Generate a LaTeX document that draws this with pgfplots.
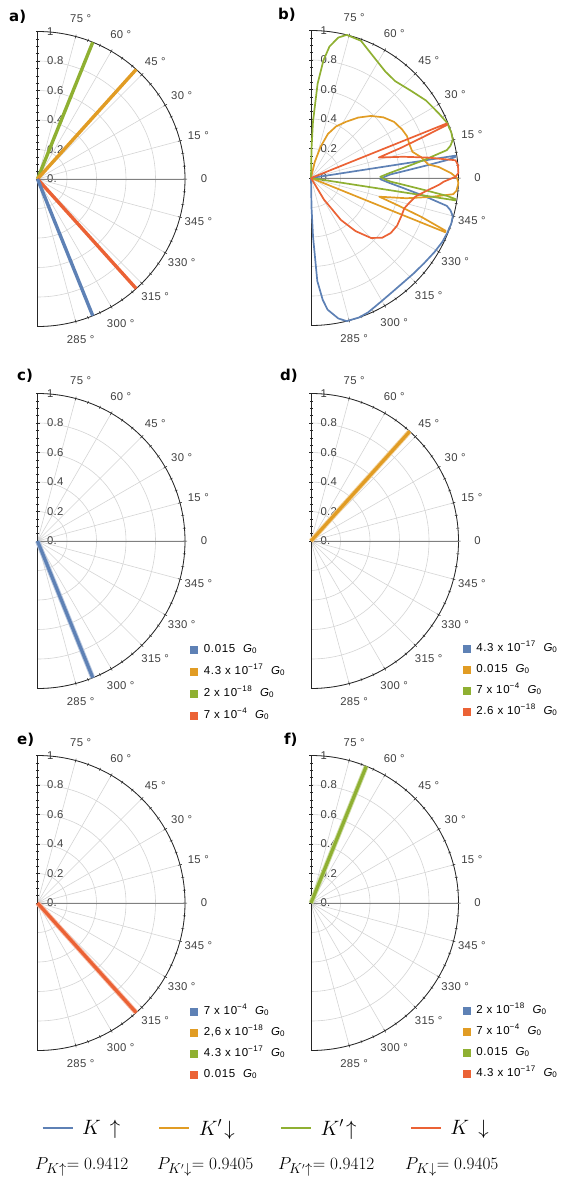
\documentclass[border=0pt]{standalone}
\usepackage{fontspec}
\setmainfont{Liberation Sans}
\newfontfamily\lab[LetterSpace=3]{Liberation Sans}
\newfontfamily\leg[LetterSpace=6]{Liberation Sans}
\newfontfamily\plab{DejaVu Sans}
\usepackage{pgfplots}
\usepackage{pgfplotstable}
\pgfplotsset{compat=1.18}
\usepgfplotslibrary{polar}
\definecolor{cb}{RGB}{94,129,181}
\definecolor{co}{RGB}{225,156,36}
\definecolor{cg}{RGB}{143,176,50}
\definecolor{cr}{RGB}{235,98,53}
\newcommand\labfont{\fontsize{11.3}{13}\selectfont\lab}
\newcommand\legfont{\fontsize{11.5}{13}\selectfont\leg}
\newcommand\G{\ \ {\itshape G}\textsubscript{0}}
\newcommand\tp[1]{10\textsuperscript{−#1}}
\newcommand\E[1]{\hspace{4pt}#1}

% panel b data (angle in degrees, radius)
\pgfplotstableread{
a r
-90 0
-89 0.2
-88 0.4
-86.5 0.7
-84.5 0.83
-82.8 0.9
-79 0.97
-76 1.0
-71 1.0
-67 0.99
-61 0.965
-55 0.95
-49 0.945
-43 0.95
-37 0.96
-31 0.976
-26 0.99
-22 0.996
-18 1.0
-15 0.995
-13 0.97
-11.6 0.94
-9 0.775
-6 0.62
-3.5 0.53
-1 0.47
1 0.5
2.6 0.54
4.5 0.65
6 0.77
7.5 0.93
8.3 0.99
8.8 0.99
9.3 0
90 0
}\tblue
\pgfplotstableread{
a r
-90 0
-9.3 0
-8.8 0.99
-8.3 0.99
-7.5 0.93
-6 0.77
-4.5 0.65
-2.6 0.54
-1 0.5
1 0.47
3.5 0.53
6 0.62
9 0.775
11.6 0.94
13 0.97
15 0.995
18 1.0
22 0.996
27 0.97
34 0.94
41 0.90
49 0.87
55 0.88
62 0.92
70 0.99
76 1.0
79 0.97
82 0.9
84 0.8
86 0.64
88 0.38
89 0.2
90 0
}\tgreen
\pgfplotstableread{
a r
-90 0
-22.6 0
-22.0 0.98
-21.4 0.98
-19.5 0.8
-17.5 0.62
-15.3 0.48
-12 0.66
-9 0.82
-6.5 0.97
-5 0.99
-2 1.0
0 0.99
2 0.95
4.9 0.87
6.6 0.8
10.7 0.76
14.5 0.71
19 0.705
23.5 0.71
28 0.70
34 0.68
40 0.64
46 0.585
52 0.52
58 0.45
64 0.39
69 0.32
73 0.22
77 0.11
80 0
90 0
}\torange
\pgfplotstableread{
a r
-90 0
-62 0
-59 0.17
-54.5 0.35
-50 0.47
-45 0.575
-40 0.63
-34.6 0.657
-29 0.667
-23 0.665
-18 0.665
-14.5 0.685
-10 0.72
-5.8 0.8
-3 0.87
-1.6 0.9
0.5 0.98
2 1.0
5 1.0
7 0.987
10 0.8
13 0.64
16.8 0.48
18.5 0.64
20 0.8
21.3 0.99
21.9 0.99
22.5 0
90 0
}\tred

\pgfplotsset{
  hp/.style={
    scale only axis, width=295pt, height=295pt,
    xmin=-90, xmax=90, ymin=0, ymax=1,
    xtick={-75,-60,-45,-30,-15,0,15,30,45,60,75},
    xticklabels={285 °,300 °,315 °,330 °,345 °,0,15 °,30 °,45 °,60 °,75 °},
    ytick={0,0.2,0.4,0.6,0.8,1},
    yticklabels={0.,0.2,0.4,0.6,0.8,1},
    minor x tick num=2, minor y tick num=3,
    grid=major,
    major grid style={draw=black!17, line width=0.6pt},
    axis line style={black!85, line width=0.8pt},
    tick style={black!85, line width=0.5pt},
    major tick length=4pt, minor tick length=3pt, tick align=center,
    ticklabel style={font=\labfont, text=black!75},
    xticklabel style={anchor=center, shift={(\tick:21pt)}},
    yticklabel style={anchor=west, xshift=4pt, yshift={\tick*295pt}},
    legend style={draw=none, fill=none, font=\legfont, at={(1.015,0.165)},
      anchor=north west, row sep=7.5pt, nodes={text height=8pt, text depth=2.5pt}},
    legend cell align=left,
    legend image code/.code={\fill[##1] (0pt,-3.5pt) rectangle (7pt,3.5pt);},
    clip=false,
  },
  zl/.style={black!50, line width=0.6pt, forget plot},
}

\begin{document}
\begin{tikzpicture}
\path[use as bounding box] (0pt,0pt) rectangle (577pt,-1185pt);

% ---------- a ----------
\begin{polaraxis}[hp, at={(37.5pt,-179pt)}, anchor=origin]
\addplot[zl] coordinates {(0,0) (0,1)};
\addplot[cg, line width=3.4pt] coordinates {(68,0) (68,1)};
\addplot[co, line width=3.4pt] coordinates {(48,0) (48,1)};
\addplot[cr, line width=3.4pt] coordinates {(-48,0) (-48,1)};
\addplot[cb, line width=3.4pt] coordinates {(-68,0) (-68,1)};
\end{polaraxis}

% ---------- b ----------
\begin{polaraxis}[hp, at={(311pt,-178pt)}, anchor=origin]
\addplot[zl] coordinates {(0,0) (0,1)};
\addplot[cb, line width=1.7pt, line join=round] table[x=a, y=r] {\tblue};
\addplot[co, line width=1.7pt, line join=round] table[x=a, y=r] {\torange};
\addplot[cg, line width=1.7pt, line join=round] table[x=a, y=r] {\tgreen};
\addplot[cr, line width=1.7pt, line join=round] table[x=a, y=r] {\tred};
\end{polaraxis}

% ---------- c ----------
\begin{polaraxis}[hp, at={(37.5pt,-541pt)}, anchor=origin]
\addplot[zl] coordinates {(0,0) (0,1)};
\addplot[cb!45, line width=5pt, forget plot] coordinates {(-68,0) (-68,1)};
\addplot[cb, line width=3.2pt, forget plot] coordinates {(-68,0) (-68,1)};
\addlegendimage{cb}\addlegendentry{\E{0.015\G}}
\addlegendimage{co}\addlegendentry{\E{4.3 x \tp{17}\G}}
\addlegendimage{cg}\addlegendentry{\E{2 x \tp{18}\G}}
\addlegendimage{cr}\addlegendentry{\E{7 x \tp{4}\G}}
\end{polaraxis}

% ---------- d ----------
\begin{polaraxis}[hp, at={(311pt,-541pt)}, anchor=origin, legend style={at={(1.008,0.168)}, row sep=6.5pt}]
\addplot[zl] coordinates {(0,0) (0,1)};
\addplot[co!45, line width=5pt, forget plot] coordinates {(48,0) (48,1)};
\addplot[co, line width=3.2pt, forget plot] coordinates {(48,0) (48,1)};
\addlegendimage{cb}\addlegendentry{\E{4.3 x \tp{17}\G}}
\addlegendimage{co}\addlegendentry{\E{0.015\G}}
\addlegendimage{cg}\addlegendentry{\E{7 x \tp{4}\G}}
\addlegendimage{cr}\addlegendentry{\E{2.6 x \tp{18}\G}}
\end{polaraxis}

% ---------- e ----------
\begin{polaraxis}[hp, at={(37.5pt,-903pt)}, anchor=origin, legend style={row sep=6.5pt}]
\addplot[zl] coordinates {(0,0) (0,1)};
\addplot[cr!45, line width=5pt, forget plot] coordinates {(-48,0) (-48,1)};
\addplot[cr, line width=3.2pt, forget plot] coordinates {(-48,0) (-48,1)};
\addlegendimage{cb}\addlegendentry{\E{7 x \tp{4}\G}}
\addlegendimage{co}\addlegendentry{\E{2,6 x \tp{18}\G}}
\addlegendimage{cg}\addlegendentry{\E{4.3 x \tp{17}\G}}
\addlegendimage{cr}\addlegendentry{\E{0.015\G}}
\end{polaraxis}

% ---------- f ----------
\begin{polaraxis}[hp, at={(311pt,-903pt)}, anchor=origin, legend style={at={(1.008,0.168)}, row sep=6.5pt}]
\addplot[zl] coordinates {(0,0) (0,1)};
\addplot[cg!45, line width=5pt, forget plot] coordinates {(68,0) (68,1)};
\addplot[cg, line width=3.2pt, forget plot] coordinates {(68,0) (68,1)};
\addlegendimage{cb}\addlegendentry{\E{2 x \tp{18}\G}}
\addlegendimage{co}\addlegendentry{\E{7 x \tp{4}\G}}
\addlegendimage{cg}\addlegendentry{\E{0.015\G}}
\addlegendimage{cr}\addlegendentry{\E{4.3 x \tp{17}\G}}
\end{polaraxis}

% ---------- bottom legend ----------
\begin{axis}[hide axis, scale only axis, width=10pt, height=10pt,
  xmin=0, xmax=1, ymin=0, ymax=1, at={(38pt,-1128pt)}, anchor=west,
  legend columns=4,
  legend style={draw=none, fill=none, at={(0,0.5)}, anchor=west,
    font=\fontsize{22}{24}\selectfont},
  legend image code/.code={\draw[#1, line width=2.8pt] (0pt,0pt) -- (30pt,0pt);}]
\addlegendimage{cb}\addlegendentry{\makebox[80pt][l]{\hspace{6pt}$K\,\uparrow$}}
\addlegendimage{co}\addlegendentry{\makebox[85pt][l]{\hspace{6pt}$K'\!\downarrow$}}
\addlegendimage{cg}\addlegendentry{\makebox[93pt][l]{\hspace{6pt}$K'\!\uparrow$}}
\addlegendimage{cr}\addlegendentry{\makebox[60pt][l]{\hspace{6pt}$K\,\downarrow$}}
\end{axis}

% ---------- P values ----------
\begin{scope}[every node/.style={anchor=west, inner sep=0pt, font=\fontsize{19}{22}\selectfont}]
\node at (35pt,-1167pt) {$P_{K\uparrow}{=}\;0.9412$};
\node at (157pt,-1167pt) {$P_{K'\downarrow}{=}\;0.9405$};
\node at (278pt,-1167pt) {$P_{K'\uparrow}{=}\;0.9412$};
\node at (405pt,-1167pt) {$P_{K\downarrow}{=}\;0.9405$};
\end{scope}

% ---------- panel labels ----------
\begin{scope}[every node/.style={anchor=west, inner sep=0pt, font=\fontsize{15}{17}\selectfont\plab\bfseries}]
\node at (9pt,-17pt) {a)};
\node at (278pt,-15pt) {b)};
\node at (17pt,-376pt) {c)};
\node at (280pt,-376pt) {d)};
\node at (17pt,-740pt) {e)};
\node at (284pt,-740pt) {f)};
\end{scope}
\end{tikzpicture}
\end{document}
